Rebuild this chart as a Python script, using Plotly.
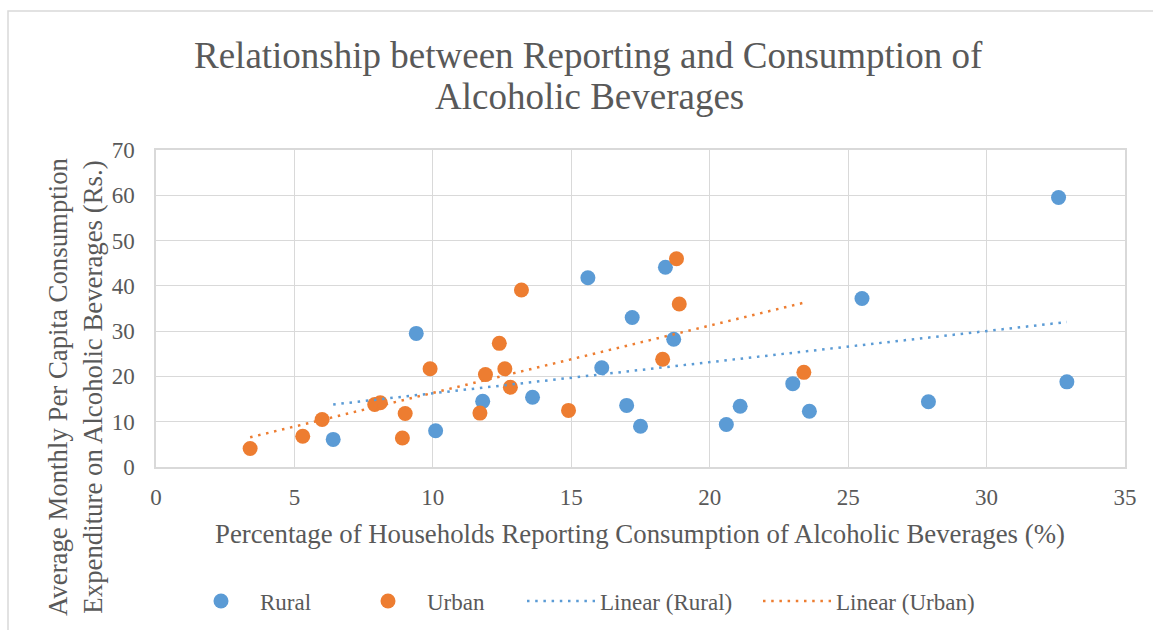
import numpy as np
import plotly.graph_objects as go

# Percentage of households reporting consumption (%) and monthly per capita expenditure (Rs.)
rural_pct = [6.4, 9.4, 10.1, 11.8, 13.6, 15.6, 16.1, 17.2, 17.0, 17.5,
             18.4, 18.7, 20.6, 21.1, 23.0, 23.6, 25.5, 27.9, 32.6, 32.9]
rural_exp = [6.1, 29.5, 8.0, 14.5, 15.4, 41.8, 21.9, 33.0, 13.6, 9.0,
             44.1, 28.2, 9.4, 13.4, 18.4, 12.3, 37.2, 14.4, 59.5, 18.8]

urban_pct = [3.4, 5.3, 6.0, 7.9, 8.1, 9.0, 8.9, 9.9, 11.7, 11.9,
             12.4, 12.6, 12.8, 13.2, 14.9, 18.3, 18.8, 18.9, 23.4]
urban_exp = [4.1, 6.8, 10.5, 13.8, 14.2, 11.8, 6.4, 21.7, 11.9, 20.4,
             27.3, 21.7, 17.6, 39.1, 12.5, 23.8, 46.0, 36.0, 20.9]

x_ticks = [0, 5, 10, 15, 20, 25, 30, 35]
y_ticks = [0, 10, 20, 30, 40, 50, 60, 70]

BLUE = "#5B9BD5"
ORANGE = "#ED7D31"
TEXT = "#595959"
GRID = "#D9D9D9"
FONT = "Liberation Serif, Times New Roman, serif"


def linear_fit(xs, ys):
    xs = np.asarray(xs, dtype=float)
    ys = np.asarray(ys, dtype=float)
    slope, intercept = np.polyfit(xs, ys, 1)
    x_line = np.array([xs.min(), xs.max()])
    return x_line, slope * x_line + intercept


fig = go.Figure()

fig.add_trace(go.Scatter(
    x=rural_pct, y=rural_exp, mode="markers", name="Rural", legend="legend",
    marker=dict(color=BLUE, size=15, line=dict(width=0)),
))
fig.add_trace(go.Scatter(
    x=urban_pct, y=urban_exp, mode="markers", name="Urban", legend="legend2",
    marker=dict(color=ORANGE, size=15, line=dict(width=0)),
))

rx, ry = linear_fit(rural_pct, rural_exp)
ux, uy = linear_fit(urban_pct, urban_exp)
fig.add_trace(go.Scatter(
    x=rx, y=ry, mode="lines", name="Linear (Rural)", legend="legend3",
    line=dict(color=BLUE, width=2.5, dash="2.5px,5.7px"),
))
fig.add_trace(go.Scatter(
    x=ux, y=uy, mode="lines", name="Linear (Urban)", legend="legend4",
    line=dict(color=ORANGE, width=2.5, dash="2.5px,5.7px"),
))

axis_common = dict(
    showgrid=True, gridcolor=GRID, gridwidth=1.2,
    showline=True, linecolor=GRID, linewidth=1.5, mirror=True,
    zeroline=False, ticks="",
    tickfont=dict(family=FONT, size=23, color=TEXT),
)

fig.update_xaxes(range=[0, 35], tickvals=x_ticks, ticklabelstandoff=9, **axis_common)
fig.update_yaxes(range=[0, 70], tickvals=y_ticks, ticklabelstandoff=15, **axis_common)

plot_l, plot_r, plot_t, plot_b = 156, 28, 150, 163
W, H = 1153, 630
pw = W - plot_l - plot_r
ph = H - plot_t - plot_b


def px_x(px):
    return (px - plot_l) / pw


def px_y(py):
    return (H - plot_b - py) / ph


annotations = [
    dict(text="Relationship between Reporting and Consumption of",
         x=px_x(588), y=px_y(55), xref="paper", yref="paper",
         xanchor="center", yanchor="middle", showarrow=False,
         font=dict(family=FONT, size=37, color=TEXT)),
    dict(text="Alcoholic Beverages",
         x=px_x(589), y=px_y(97), xref="paper", yref="paper",
         xanchor="center", yanchor="middle", showarrow=False,
         font=dict(family=FONT, size=37, color=TEXT)),
    dict(text="Percentage of Households Reporting Consumption of Alcoholic Beverages (%)",
         x=px_x(640), y=px_y(534), xref="paper", yref="paper",
         xanchor="center", yanchor="middle", showarrow=False,
         font=dict(family=FONT, size=26.8, color=TEXT)),
    dict(text="Average Monthly Per Capita Consumption<br>Expenditure on Alcoholic Beverages (Rs.)",
         x=px_x(75), y=px_y(387), xref="paper", yref="paper",
         xanchor="center", yanchor="middle", showarrow=False, textangle=-90,
         font=dict(family=FONT, size=26.8, color=TEXT)),
]


def legend_box(left_px):
    return dict(
        orientation="h", x=px_x(left_px), y=px_y(601), xanchor="left", yanchor="middle",
        itemwidth=68, font=dict(family=FONT, size=23, color=TEXT),
        bgcolor="rgba(0,0,0,0)",
    )


fig.update_layout(
    width=W, height=H,
    margin=dict(l=plot_l, r=plot_r, t=plot_t, b=plot_b, autoexpand=False),
    paper_bgcolor="white", plot_bgcolor="white",
    annotations=annotations,
    showlegend=True,
    legend=legend_box(182),
    legend2=legend_box(349),
    legend3=legend_box(522),
    legend4=legend_box(758),
    shapes=[dict(
        type="rect", xref="paper", yref="paper",
        x0=px_x(8), x1=px_x(1160), y0=px_y(11), y1=px_y(640),
        line=dict(color=GRID, width=1.5), fillcolor="rgba(0,0,0,0)", layer="below",
    )],
)

fig.write_html("out.html")
